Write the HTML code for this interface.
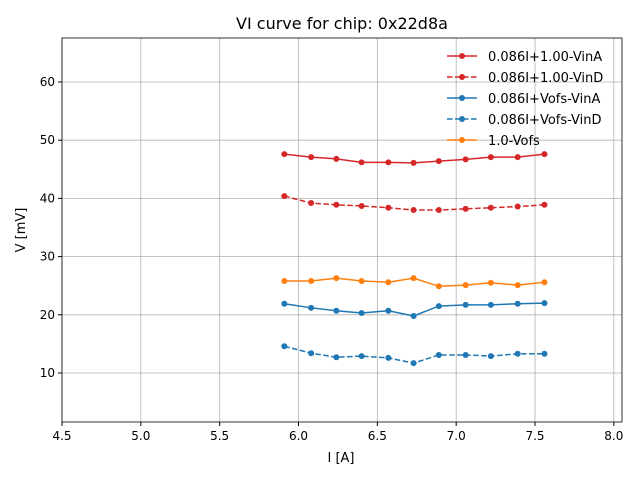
<!DOCTYPE html>
<html><head><meta charset="utf-8"><style>
body{margin:0;background:#fff;font-family:"Liberation Sans","DejaVu Sans",sans-serif}
svg text{font-family:"DejaVu Sans","Liberation Sans",sans-serif}
</style></head><body>
<svg id="c" width="640" height="480" xmlns="http://www.w3.org/2000/svg">
<rect width="640" height="480" fill="#fff"/>
<text x="342" y="29" font-size="16" text-anchor="middle">VI curve for chip: 0x22d8a</text>
<g id="grid"></g><g id="series"></g><g id="axes"></g>
<text x="341" y="462" font-size="13" text-anchor="middle">I [A]</text>
<text x="25" y="230" font-size="13" text-anchor="middle" transform="rotate(-90 25 230)">V [mV]</text>
<g id="legend"></g>
</svg>
<script>
const xVals=[5.91,6.08,6.24,6.40,6.57,6.73,6.89,7.06,7.22,7.39,7.56];
const redA=[47.6,47.1,46.8,46.2,46.2,46.1,46.4,46.7,47.1,47.1,47.6];
const redD=[40.4,39.2,38.9,38.7,38.4,38.0,38.0,38.2,38.4,38.6,38.9];
const blueA=[21.9,21.2,20.7,20.3,20.7,19.8,21.5,21.7,21.7,21.9,22.0];
const blueD=[14.6,13.4,12.7,12.9,12.6,11.7,13.1,13.1,12.9,13.3,13.3];
const orange=[25.8,25.8,26.3,25.8,25.6,26.3,24.9,25.1,25.5,25.1,25.6];
const xTicks=[4.5,5.0,5.5,6.0,6.5,7.0,7.5,8.0];
const yTicks=[10,20,30,40,50,60];
const seriesNames=["0.086I+1.00-VinA","0.086I+1.00-VinD","0.086I+Vofs-VinA","0.086I+Vofs-VinD","1.0-Vofs"];
const L=62,R=622,T=38,B=422;
const X=v=>62+(v-4.5)*157.67;
const Y=v=>373-(v-10)*5.82;
const NS="http://www.w3.org/2000/svg";
function mk(tag,at,parent){const e=document.createElementNS(NS,tag);for(const k in at)e.setAttribute(k,at[k]);parent.appendChild(e);return e;}
const grid=document.getElementById('grid'),axes=document.getElementById('axes'),ser=document.getElementById('series'),leg=document.getElementById('legend');
xTicks.forEach(t=>{const x=X(t);
 const g=mk('line',{x1:x,x2:x,y1:T,y2:B,stroke:'#b0b0b0','stroke-width':0.8},grid);
 
 
 mk('line',{x1:x,x2:x,y1:B,y2:B+4,stroke:'#000'},axes);
 const tx=mk('text',{x:x,y:B+18,'font-size':12,'text-anchor':'middle'},axes);tx.textContent=t.toFixed(1);
 
 });
yTicks.forEach(t=>{const y=Y(t);
 const g=mk('line',{x1:L,x2:R,y1:y,y2:y,stroke:'#b0b0b0','stroke-width':0.8},grid);
 
 
 mk('line',{x1:L-4,x2:L,y1:y,y2:y,stroke:'#000'},axes);
 const tx=mk('text',{x:L-7,y:y+4,'font-size':12,'text-anchor':'end'},axes);tx.textContent=t;
 
 });
const fr=mk('rect',{x:L,y:T,width:R-L,height:B-T,fill:'none',stroke:'#000','stroke-width':0.8},axes);


const defs=[[redA,'#d62728',''],[redD,'#d62728','5.5,2.5'],[blueA,'#1f77b4',''],[blueD,'#1f77b4','5.5,2.5'],[orange,'#ff7f0e','']];
defs.forEach((d,i)=>{
 const g=mk('g',{},ser);
 
 
 mk('polyline',{points:d[0].map((v,j)=>X(xVals[j])+','+Y(v)).join(' '),fill:'none',stroke:d[1],'stroke-width':1.5,'stroke-dasharray':d[2]},g);
 d[0].forEach((v,j)=>{const c=mk('circle',{cx:X(xVals[j]),cy:Y(v),r:3,fill:d[1]},g);
  
  });
 const ly=56+i*21;
 const lg=mk('g',{},leg);
 
 
 mk('line',{x1:447,x2:477,y1:ly,y2:ly,stroke:d[1],'stroke-width':1.5,'stroke-dasharray':d[2]},lg);
 mk('circle',{cx:462,cy:ly,r:3,fill:d[1]},lg);
 const t=mk('text',{x:488,y:ly+5,'font-size':13},lg);t.textContent=seriesNames[i];
});
</script>
</body></html>
